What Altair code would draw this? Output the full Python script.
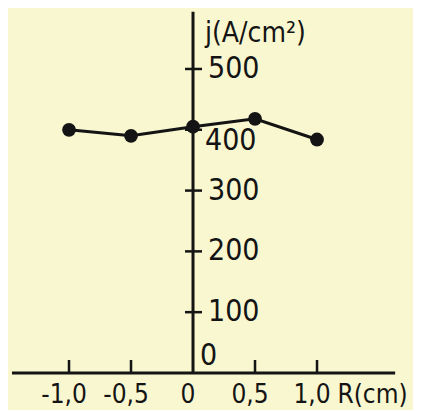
import altair as alt
import pandas as pd

# ---- data ----
R_values = [-1.0, -0.5, 0.0, 0.5, 1.0]
J_values = [400, 390, 405, 418, 384]

x_tick_values = [-1.0, -0.5, 0.5, 1.0]
x_label_values = [-1.0, -0.5, 0.0, 0.5, 1.0]
x_label_texts = ["-1,0", "-0,5", "0", "0,5", "1,0"]

y_tick_values = [100, 200, 300, 400, 500]
y_label_values = [100, 200, 300, 500]
y_label_texts = ["100", "200", "300", "500"]

x_title = "R(cm)"
y_title = "j(A/cm²)"

# ---- styling / layout ----
INK = "#141414"
BG = "#f9f7d0"
FONT = "DejaVu Sans Condensed, sans-serif"
W, H = 405, 402
xs = alt.Scale(domain=[-1.492, 1.774], nice=False, zero=False)
ys = alt.Scale(domain=[-60.9, 600.3], nice=False, zero=False)

pts = pd.DataFrame({"R": R_values, "J": J_values})

def X(f):
    return alt.X(f, scale=xs, axis=None)

def Y(f):
    return alt.Y(f, scale=ys, axis=None)

# axes lines
xaxis = alt.Chart(pd.DataFrame({"a": [-1.46], "b": [1.63], "y": [0]})).mark_rule(
    color=INK, strokeWidth=3).encode(x=X("a:Q"), x2="b:Q", y=Y("y:Q"))
yaxis = alt.Chart(pd.DataFrame({"x": [0], "a": [0], "b": [594]})).mark_rule(
    color=INK, strokeWidth=3).encode(x=X("x:Q"), y=Y("a:Q"), y2="b:Q")

# x ticks (pointing up)
xt = alt.Chart(pd.DataFrame({"x": x_tick_values, "y": [0] * len(x_tick_values)})).mark_rule(
    color=INK, strokeWidth=2.5, y2Offset=-13).encode(x=X("x:Q"), y=Y("y:Q"), y2="y:Q")

# y ticks (crossing the axis)
yt = alt.Chart(pd.DataFrame({"y": y_tick_values, "x": [0] * len(y_tick_values)})).mark_rule(
    color=INK, strokeWidth=2.5, xOffset=-8, x2Offset=9).encode(x=X("x:Q"), x2="x:Q", y=Y("y:Q"))

# x tick labels
xl = alt.Chart(pd.DataFrame({"x": x_label_values, "t": x_label_texts,
                             "y": [0] * len(x_label_values)})).mark_text(
    font=FONT, fontSize=26, color=INK, align="center", baseline="middle", dy=22, dx=-5
).encode(x=X("x:Q"), y=Y("y:Q"), text="t:N")

# y tick labels
yl = alt.Chart(pd.DataFrame({"y": y_label_values, "t": y_label_texts,
                             "x": [0] * len(y_label_values)})).mark_text(
    font=FONT, fontSize=30, color=INK, align="left", baseline="middle", dx=15
).encode(x=X("x:Q"), y=Y("y:Q"), text="t:N")

yl400 = alt.Chart(pd.DataFrame({"y": [400], "t": ["400"], "x": [0]})).mark_text(
    font=FONT, fontSize=30, color=INK, align="left", baseline="middle", dx=12, dy=11
).encode(x=X("x:Q"), y=Y("y:Q"), text="t:N")

yl0 = alt.Chart(pd.DataFrame({"y": [0], "t": ["0"], "x": [0]})).mark_text(
    font=FONT, fontSize=30, color=INK, align="left", baseline="middle", dx=7, dy=-17
).encode(x=X("x:Q"), y=Y("y:Q"), text="t:N")

# titles
xtl = alt.Chart(pd.DataFrame({"x": [1.165], "y": [0], "t": [x_title]})).mark_text(
    font=FONT, fontSize=26, color=INK, align="left", baseline="middle", dy=22
).encode(x=X("x:Q"), y=Y("y:Q"), text="t:N")

ytl = alt.Chart(pd.DataFrame({"x": [0], "y": [557], "t": [y_title]})).mark_text(
    font=FONT, fontSize=28, color=INK, align="left", baseline="middle", dx=12
).encode(x=X("x:Q"), y=Y("y:Q"), text="t:N")

# data line + points
line = alt.Chart(pts).mark_line(color=INK, strokeWidth=3, interpolate="linear").encode(
    x=X("R:Q"), y=Y("J:Q"))
dots = alt.Chart(pts).mark_circle(color=INK, opacity=1, size=190).encode(
    x=X("R:Q"), y=Y("J:Q"))

chart = alt.layer(xaxis, yaxis, xt, yt, xl, yl, yl400, yl0, xtl, ytl, line, dots).properties(
    width=W, height=H, background=BG, padding=0,
    autosize=alt.AutoSizeParams(type="none")
).configure_view(stroke=None)

chart.save("out.html", embed_options={"renderer": "svg", "actions": False})
